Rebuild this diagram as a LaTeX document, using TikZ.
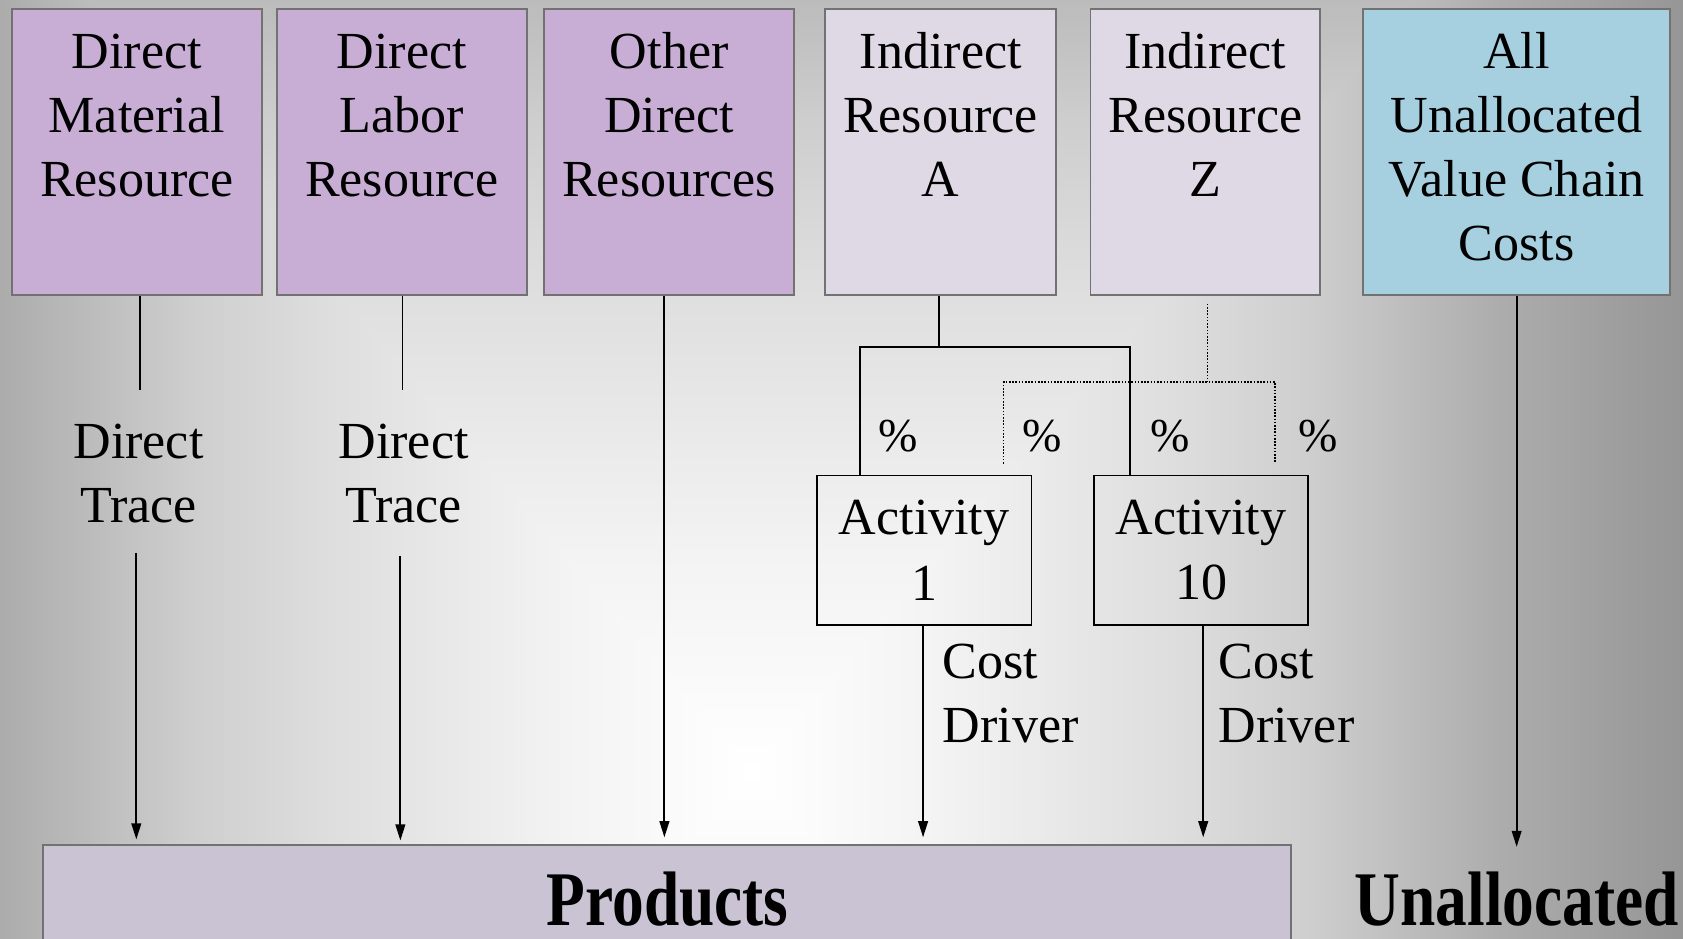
\documentclass[tikz,border=0pt]{standalone}
\usepackage{fontspec}
\setmainfont{Liberation Serif}
\usepackage{graphicx}
\usetikzlibrary{arrows.meta}
\definecolor{purp}{HTML}{C8AED5}
\definecolor{indc}{HTML}{DFD9E5}
\definecolor{bluc}{HTML}{A6CFE0}
\definecolor{prodc}{HTML}{C9C3D4}
\definecolor{bord}{HTML}{727272}
\pgfdeclarehorizontalshading{bgl}{2400pt}{color(0pt)=(white!54.9!black); color(132pt)=(white!58.8!black); color(306pt)=(white!67.8!black); color(479pt)=(white!80.8!black); color(609pt)=(white!87.1!black); color(826pt)=(white!95.3!black); color(1000pt)=(white)}
\pgfdeclarehorizontalshading{bgr}{2400pt}{color(0pt)=(white); color(174pt)=(white!95.3!black); color(391pt)=(white!87.1!black); color(521pt)=(white!80.8!black); color(694pt)=(white!67.8!black); color(868pt)=(white!58.8!black); color(1000pt)=(white!54.9!black)}
\pgfdeclareverticalshading{bgt}{2400pt}{color(0pt)=(white); color(202pt)=(white!95.3!black); color(454pt)=(white!87.1!black); color(606pt)=(white!80.8!black); color(808pt)=(white!67.8!black); color(1010pt)=(white!58.8!black); color(1162pt)=(white!54.9!black)}
\pgfdeclareverticalshading{bgb}{2400pt}{color(0pt)=(white!54.9!black); color(152pt)=(white!58.8!black); color(354pt)=(white!67.8!black); color(556pt)=(white!80.8!black); color(708pt)=(white!87.1!black); color(960pt)=(white!95.3!black); color(1162pt)=(white)}
\begin{document}
\begin{tikzpicture}[x=1pt,y=-1pt,
  shd/.style={inner sep=0pt, outer sep=0pt},
  res/.style={draw=bord, line width=1.8pt, inner sep=0pt, minimum height=267pt},
  boxtxt/.style={font=\fontsize{48.5}{59.5}\selectfont, align=center, anchor=north, inner sep=0pt},
  lefttxt/.style={font=\fontsize{48.5}{59.5}\selectfont, align=left, anchor=north west, inner sep=0pt},
  ln/.style={line width=1.8pt},
  arr/.style={ln, -{Triangle[length=15pt,width=9pt]}},
  dotln/.style={line width=1.5pt, dash pattern=on 1.5pt off 1.5pt},
  act/.style={draw=black, line width=1.8pt, minimum width=200pt, minimum height=139pt, inner sep=0pt,
    font=\fontsize{48.5}{61}\selectfont, align=center},
  pct/.style={font=\fontsize{44}{50}\selectfont, anchor=base, inner sep=0pt},
  big/.style={font=\fontsize{72}{80}\selectfont\bfseries, inner sep=0pt}]
\useasboundingbox (0,0) rectangle (1568,874);
% background: rectangular gradient from a centre point
\coordinate (bc) at (700,720);
\begin{scope}
  \clip (0,0) rectangle (1568,874);
  \begin{scope}
    \clip (-400,-600) rectangle (700,1600);
    \node[shd, anchor=east] (bgL) at (bc) {\pgfuseshading{bgl}};
  \end{scope}
  \begin{scope}
    \clip (700,-600) rectangle (2000,1600);
    \node[shd, anchor=west] (bgR) at (bc) {\pgfuseshading{bgr}};
  \end{scope}
  \begin{scope}
    \clip (bc) -- (-300,-444) -- (1700,-444) -- cycle;
    \node[shd, anchor=south] (bgT) at (bc) {\pgfuseshading{bgt}};
  \end{scope}
  \begin{scope}
    \clip (bc) -- (-300,1884) -- (1700,1884) -- cycle;
    \node[shd, anchor=north] (bgB) at (bc) {\pgfuseshading{bgb}};
  \end{scope}
\end{scope}

% top boxes
\node[res, fill=purp, minimum width=233pt] (dm) at (127.5,141.5) {};
\node[res, fill=purp, minimum width=233pt] (dl) at (374.5,141.5) {};
\node[res, fill=purp, minimum width=233pt] (od) at (623.5,141.5) {};
\node[res, fill=indc, minimum width=215pt] (ira) at (876.5,141.5) {};
\node[res, fill=indc, minimum width=214pt] (irz) at (1123,141.5) {};
\node[res, fill=bluc, minimum width=286pt] (all) at (1413,141.5) {};

\node[boxtxt] (dmT) at (127.5,24) {\rule{0pt}{40pt}Direct\\Material\\Resource};
\node[boxtxt] (dlT) at (374.5,24) {\rule{0pt}{40pt}Direct\\Labor\\Resource};
\node[boxtxt] (odT) at (623.5,24) {\rule{0pt}{40pt}Other\\Direct\\Resources};
\node[boxtxt] (iraT) at (876.5,24) {\rule{0pt}{40pt}Indirect\\Resource\\A};
\node[boxtxt] (irzT) at (1123,24) {\rule{0pt}{40pt}Indirect\\Resource\\Z};
\node[boxtxt] (allT) at (1413,24) {\rule{0pt}{40pt}All\\Unallocated\\Value Chain\\Costs};

% products box
\node[draw=bord, line width=1.8pt, fill=prodc, minimum width=1163pt, minimum height=103pt, inner sep=0pt] (prod) at (621.5,838.5) {};
\node[big, anchor=base] (prodT) at (622,862.5) {\scalebox{0.82}[1]{Products}};
\node[big, anchor=base] (unal) at (1413,862.5) {\scalebox{0.82}[1]{Unallocated}};

% direct trace
\node[boxtxt] (dt1) at (129,387) {\rule{0pt}{40pt}Direct\\Trace};
\node[boxtxt] (dt2) at (376,387) {\rule{0pt}{40pt}Direct\\Trace};
\coordinate (e1) at (130,363);
\coordinate (e2) at (375,363);
\draw[ln] (e1 |- dm.south) -- (e1);
\draw[ln] (e2 |- dl.south) -- (e2);
\coordinate (s1) at (127,515);
\coordinate (s2) at (373,518);
\draw[arr, shorten >=4pt] (s1) -- (s1 |- prod.north);
\draw[arr, shorten >=3pt] (s2) -- (s2 |- prod.north);
\coordinate (x3) at (619,0);
\draw[arr, shorten >=6pt] (x3 |- od.south) -- (x3 |- prod.north);

% activities
\node[act] (a1) at (861,512.5) {Activity\\1};
\node[act] (a10) at (1119,512.5) {Activity\\10};

\coordinate (ja) at (875,323);
\coordinate (xl) at (801,0);
\coordinate (xr) at (1053,0);
\draw[ln] (ja |- ira.south) -- (ja);
\draw[ln] (xl |- a1.north) |- (ja) -| (xr |- a10.north);

\coordinate (jz) at (1125,356);
\coordinate (jztop) at (1125,283);
\coordinate (dl1) at (935,432);
\coordinate (dr1) at (1188,432);
\draw[dotln] (jztop) -- (jz);
\draw[dotln] (dl1) |- (jz) -| (dr1);

\node[pct] (p1) at (837,421) {\%};
\node[pct] (p2) at (971,421) {\%};
\node[pct] (p3) at (1090,421) {\%};
\node[pct] (p4) at (1228,421) {\%};

\coordinate (x4) at (860,0);
\coordinate (x5) at (1121,0);
\draw[arr, shorten >=6pt] (x4 |- a1.south) -- (x4 |- prod.north);
\draw[arr, shorten >=6pt] (x5 |- a10.south) -- (x5 |- prod.north);
\node[lefttxt] (cd1) at (878,592) {\rule{0pt}{40pt}Cost\\Driver};
\node[lefttxt] (cd2) at (1135,592) {\rule{0pt}{40pt}Cost\\Driver};

\coordinate (ue) at (1413,789);
\draw[arr] (all.south) -- (ue);
\end{tikzpicture}
\end{document}
